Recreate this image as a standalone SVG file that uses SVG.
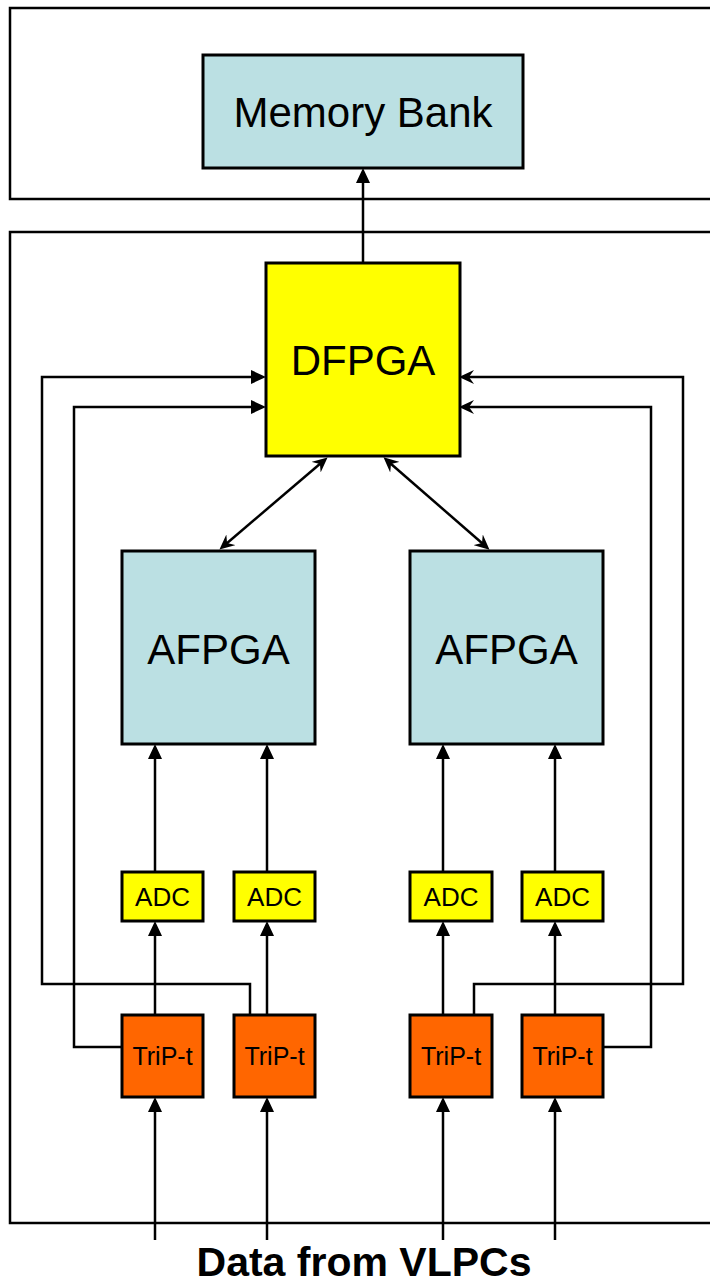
<svg xmlns="http://www.w3.org/2000/svg" width="710" height="1286" viewBox="0 0 710 1286">
<style>
.frame{fill:#fff;stroke:#000;stroke-width:2.5}
.box{stroke:#000;stroke-width:3}
.blue{fill:#BBE0E3}
.yel{fill:#FFFF00}
.org{fill:#FF6600}
.ln{fill:none;stroke:#000;stroke-width:2.5}
.t{font-family:"Liberation Sans",Arial,sans-serif;fill:#000;text-anchor:middle}
</style>
<defs>
<marker id="tri" viewBox="0 0 15 14" refX="11" refY="7" markerWidth="15" markerHeight="14" markerUnits="userSpaceOnUse" orient="auto">
<path d="M0,0 L15,7 L0,14 z" fill="#000"/>
</marker>
<marker id="st" viewBox="0 0 15 14" refX="11" refY="7" markerWidth="15" markerHeight="14" markerUnits="userSpaceOnUse" orient="auto-start-reverse">
<path d="M0,0 L15,7 L0,14 L5,7 z" fill="#000"/>
</marker>
</defs>
<g id="frames">
<rect class="frame" x="10" y="8" width="720" height="191"/>
<rect class="frame" x="10" y="232" width="720" height="991"/>
</g>
<g id="connectors">
<path class="ln" d="M363,263 V172" marker-end="url(#tri)"/>
<path class="ln" d="M250,1015 V984 H42 V377 H262" marker-end="url(#tri)"/>
<path class="ln" d="M122,1047 H74 V407 H262" marker-end="url(#tri)"/>
<path class="ln" d="M474,1015 V984 H683 V377 H463" marker-end="url(#st)"/>
<path class="ln" d="M603,1047 H651 V407 H463" marker-end="url(#st)"/>
<path class="ln" d="M324.5,460 L222.5,547" marker-start="url(#st)" marker-end="url(#st)"/>
<path class="ln" d="M386.5,460 L486.5,547" marker-start="url(#st)" marker-end="url(#st)"/>
<path class="ln" d="M155,872 V748" marker-end="url(#tri)"/>
<path class="ln" d="M267,872 V748" marker-end="url(#tri)"/>
<path class="ln" d="M443,872 V748" marker-end="url(#tri)"/>
<path class="ln" d="M555,872 V748" marker-end="url(#tri)"/>
<path class="ln" d="M155,1015 V925" marker-end="url(#tri)"/>
<path class="ln" d="M267,1015 V925" marker-end="url(#tri)"/>
<path class="ln" d="M443,1015 V925" marker-end="url(#tri)"/>
<path class="ln" d="M555,1015 V925" marker-end="url(#tri)"/>
<path class="ln" d="M155,1240 V1101" marker-end="url(#tri)"/>
<path class="ln" d="M267,1240 V1101" marker-end="url(#tri)"/>
<path class="ln" d="M443,1240 V1101" marker-end="url(#tri)"/>
<path class="ln" d="M555,1240 V1101" marker-end="url(#tri)"/>
</g>
<g id="memory-bank">
<rect class="box blue" x="203" y="55" width="320" height="113"/>
<text class="t" x="363" y="127" font-size="42">Memory Bank</text>
</g>
<g id="dfpga">
<rect class="box yel" x="266" y="263" width="194" height="193"/>
<text class="t" x="363" y="375" font-size="42">DFPGA</text>
</g>
<g id="afpga-1">
<rect class="box blue" x="122" y="551" width="193" height="193"/>
<text class="t" x="218.5" y="664" font-size="42">AFPGA</text>
</g>
<g id="afpga-2">
<rect class="box blue" x="410" y="551" width="193" height="193"/>
<text class="t" x="506.5" y="664" font-size="42">AFPGA</text>
</g>
<g id="adc-1">
<rect class="box yel" x="122" y="872" width="81" height="49"/>
<text class="t" x="162.5" y="906" font-size="26">ADC</text>
</g>
<g id="adc-2">
<rect class="box yel" x="234" y="872" width="81" height="49"/>
<text class="t" x="274.5" y="906" font-size="26">ADC</text>
</g>
<g id="adc-3">
<rect class="box yel" x="410" y="872" width="82" height="49"/>
<text class="t" x="451" y="906" font-size="26">ADC</text>
</g>
<g id="adc-4">
<rect class="box yel" x="522" y="872" width="81" height="49"/>
<text class="t" x="562.5" y="906" font-size="26">ADC</text>
</g>
<g id="tript-1">
<rect class="box org" x="122" y="1015" width="81" height="82"/>
<text class="t" x="162.5" y="1065" font-size="25">TriP-t</text>
</g>
<g id="tript-2">
<rect class="box org" x="234" y="1015" width="81" height="82"/>
<text class="t" x="274.5" y="1065" font-size="25">TriP-t</text>
</g>
<g id="tript-3">
<rect class="box org" x="410" y="1015" width="82" height="82"/>
<text class="t" x="451" y="1065" font-size="25">TriP-t</text>
</g>
<g id="tript-4">
<rect class="box org" x="522" y="1015" width="81" height="82"/>
<text class="t" x="562.5" y="1065" font-size="25">TriP-t</text>
</g>
<g id="caption">
<text class="t" x="364" y="1276" font-size="41" font-weight="bold">Data from VLPCs</text>
</g>
</svg>
